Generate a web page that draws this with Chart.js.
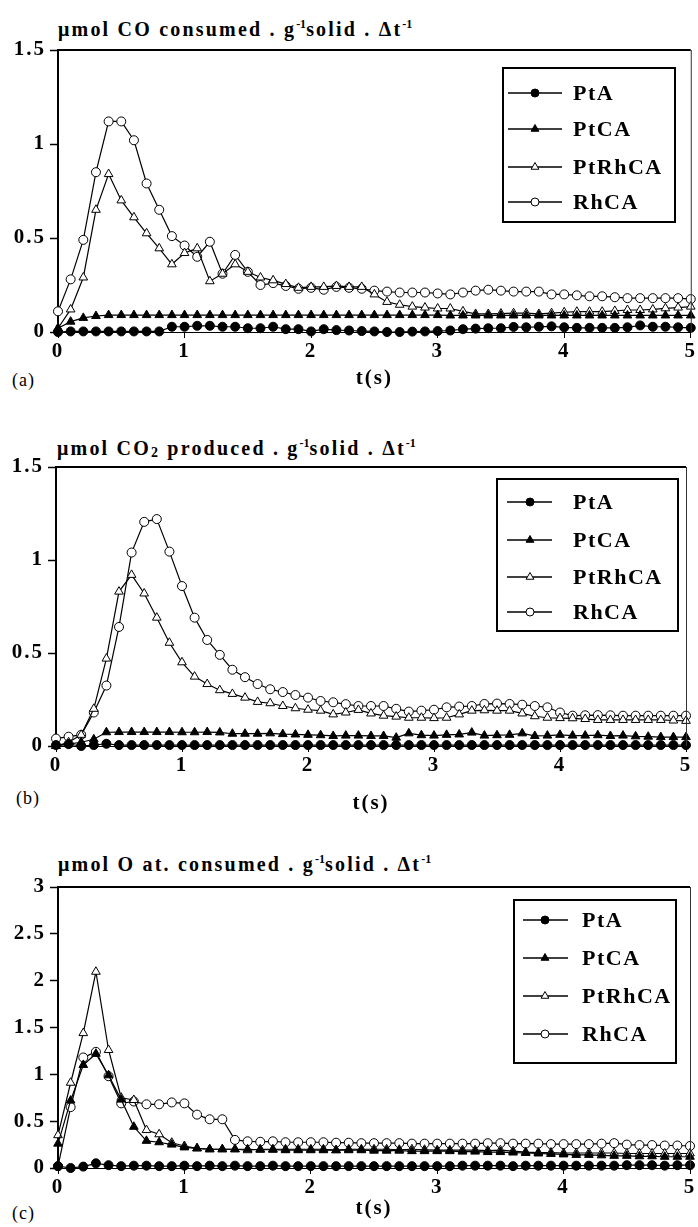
<!DOCTYPE html>
<html>
<head>
<meta charset="utf-8">
<script src="https://cdn.jsdelivr.net/npm/chart.js@4"></script>
<style>
  body { margin: 0; background: #fff; width: 698px; height: 1227px; position: relative; overflow: hidden; }
  canvas { position: absolute; left: 0; }
  .ttl { position: absolute; left: 58px; font: bold 20px "Liberation Serif", serif; letter-spacing: 2.2px; line-height: 22px; white-space: nowrap; color: #000; }
  .ttl sup { font-size: 12px; line-height: 0; vertical-align: 8px; letter-spacing: 0; }
  .ttl sub { font-size: 14px; line-height: 0; vertical-align: -2px; }
  .lbl { position: absolute; font: 18px "Liberation Serif", serif; letter-spacing: 1px; line-height: 22px; color: #000; }
</style>
</head>
<body>
<div class="ttl" style="top:18px">μmol CO consumed . g<sup>-1</sup>solid . Δt<sup>-1</sup></div>
<div class="ttl" style="top:437px;left:57px">μmol CO<sub>2</sub> produced . g<sup>-1</sup>solid . Δt<sup>-1</sup></div>
<div class="ttl" style="top:853px">μmol O at. consumed . g<sup>-1</sup>solid . Δt<sup>-1</sup></div>
<div class="lbl" style="top:369px;left:12px">(a)</div>
<div class="lbl" style="top:787px;left:16px">(b)</div>
<div class="lbl" style="top:1202px;left:12px">(c)</div>

<canvas id="chartA" width="698" height="400" style="top:0px"></canvas>
<canvas id="chartB" width="698" height="425" style="top:400px"></canvas>
<canvas id="chartC" width="698" height="407" style="top:820px"></canvas>

<script>
const times = [0, 0.1, 0.2, 0.3, 0.4, 0.5, 0.6, 0.7, 0.8, 0.9,
  1, 1.1, 1.2, 1.3, 1.4, 1.5, 1.6, 1.7, 1.8, 1.9,
  2, 2.1, 2.2, 2.3, 2.4, 2.5, 2.6, 2.7, 2.8, 2.9,
  3, 3.1, 3.2, 3.3, 3.4, 3.5, 3.6, 3.7, 3.8, 3.9,
  4, 4.1, 4.2, 4.3, 4.4, 4.5, 4.6, 4.7, 4.8, 4.9, 5];

const seriesNames = ["PtA", "PtCA", "PtRhCA", "RhCA"];

// (a) CO consumed
const aPtA = [0, 0.003, 0.003, 0.003, 0.003, 0.003, 0.003, 0.003, 0.003, 0.028,
  0.028, 0.033, 0.033, 0.028, 0.028, 0.02, 0.02, 0.028, 0.015, 0.015,
  0.003, 0.015, 0.01, 0.008, 0.005, 0.003, 0, 0, 0.002, 0.003,
  0.005, 0.008, 0.015, 0.018, 0.02, 0.02, 0.027, 0.025, 0.028, 0.03,
  0.025, 0.022, 0.022, 0.022, 0.022, 0.025, 0.035, 0.028, 0.028, 0.025, 0.022];
const aPtCA = [0.02, 0.055, 0.075, 0.085, 0.09, 0.09, 0.09, 0.09, 0.09, 0.09,
  0.09, 0.09, 0.09, 0.09, 0.09, 0.09, 0.09, 0.09, 0.09, 0.09,
  0.09, 0.09, 0.09, 0.09, 0.09, 0.09, 0.09, 0.09, 0.09, 0.09,
  0.09, 0.088, 0.088, 0.088, 0.088, 0.088, 0.088, 0.088, 0.088, 0.088,
  0.088, 0.088, 0.088, 0.088, 0.088, 0.088, 0.088, 0.088, 0.088, 0.088, 0.088];
const aPtRhCA = [0.02, 0.12, 0.29, 0.65, 0.84, 0.70, 0.61, 0.525, 0.445, 0.36,
  0.42, 0.445, 0.27, 0.31, 0.36, 0.32, 0.29, 0.275, 0.255, 0.235,
  0.24, 0.24, 0.245, 0.24, 0.24, 0.2, 0.16, 0.145, 0.135, 0.13,
  0.125, 0.125, 0.11, 0.096, 0.096, 0.098, 0.1, 0.1, 0.096, 0.1,
  0.105, 0.108, 0.108, 0.108, 0.112, 0.117, 0.117, 0.12, 0.126, 0.13, 0.135];
const aRhCA = [0.11, 0.28, 0.49, 0.85, 1.12, 1.12, 1.02, 0.79, 0.65, 0.51,
  0.46, 0.40, 0.48, 0.31, 0.41, 0.32, 0.25, 0.26, 0.245, 0.23,
  0.235, 0.225, 0.24, 0.235, 0.23, 0.22, 0.215, 0.21, 0.21, 0.21,
  0.205, 0.2, 0.21, 0.22, 0.225, 0.22, 0.215, 0.215, 0.215, 0.2,
  0.2, 0.195, 0.19, 0.19, 0.185, 0.18, 0.18, 0.18, 0.18, 0.18, 0.175];

// (b) CO2 produced
const bPtA = [0.005, 0.01, 0, 0.005, 0.012, 0.005, 0.005, 0.005, 0.005, 0.005,
  0.005, 0.005, 0.005, 0.005, 0.005, 0.005, 0.005, 0.005, 0.005, 0.005,
  0.005, 0.005, 0.005, 0.005, 0.005, 0.005, 0.005, 0.005, 0.005, 0.005,
  0.005, 0.005, 0.005, 0.005, 0.005, 0.005, 0.005, 0.005, 0.005, 0.005,
  0.005, 0.005, 0.005, 0.005, 0.005, 0.005, 0.005, 0.005, 0.005, 0.005, 0.005];
const bPtCA = [0, 0.01, 0.02, 0.036, 0.074, 0.075, 0.075, 0.075, 0.075, 0.075,
  0.074, 0.074, 0.075, 0.073, 0.066, 0.066, 0.066, 0.068, 0.064, 0.062,
  0.06, 0.058, 0.054, 0.056, 0.056, 0.054, 0.054, 0.045, 0.068, 0.058,
  0.056, 0.06, 0.062, 0.072, 0.056, 0.058, 0.06, 0.068, 0.054, 0.056,
  0.06, 0.056, 0.056, 0.058, 0.054, 0.056, 0.052, 0.05, 0.048, 0.048, 0.048];
const bPtRhCA = [0, 0.02, 0.06, 0.2, 0.47, 0.83, 0.92, 0.82, 0.69, 0.555,
  0.45, 0.373, 0.333, 0.30, 0.28, 0.26, 0.237, 0.23, 0.215, 0.203,
  0.195, 0.19, 0.17, 0.18, 0.194, 0.175, 0.163, 0.158, 0.152, 0.152,
  0.15, 0.152, 0.17, 0.19, 0.192, 0.19, 0.19, 0.175, 0.16, 0.152,
  0.15, 0.149, 0.145, 0.14, 0.14, 0.14, 0.14, 0.14, 0.14, 0.137, 0.135];
const bRhCA = [0.04, 0.05, 0.06, 0.18, 0.325, 0.64, 1.04, 1.205, 1.22, 1.045,
  0.86, 0.69, 0.57, 0.49, 0.41, 0.37, 0.333, 0.305, 0.29, 0.274,
  0.26, 0.242, 0.235, 0.225, 0.215, 0.215, 0.215, 0.2, 0.185, 0.19,
  0.195, 0.208, 0.212, 0.215, 0.226, 0.228, 0.226, 0.222, 0.215, 0.208,
  0.18, 0.163, 0.165, 0.166, 0.165, 0.163, 0.163, 0.163, 0.163, 0.163, 0.163];

// (c) O at. consumed
const cPtA = [0.02, 0, 0.015, 0.05, 0.03, 0.02, 0.025, 0.025, 0.02, 0.02,
  0.025, 0.02, 0.025, 0.02, 0.025, 0.02, 0.02, 0.025, 0.02, 0.02,
  0.02, 0.02, 0.02, 0.02, 0.02, 0.02, 0.02, 0.02, 0.02, 0.02,
  0.02, 0.02, 0.025, 0.025, 0.025, 0.025, 0.02, 0.025, 0.025, 0.025,
  0.025, 0.025, 0.025, 0.025, 0.025, 0.03, 0.03, 0.03, 0.025, 0.03, 0.03];
const cPtCA = [0.26, 0.72, 1.10, 1.22, 0.99, 0.73, 0.44, 0.29, 0.275, 0.25,
  0.22, 0.21, 0.2, 0.2, 0.2, 0.2, 0.195, 0.195, 0.19, 0.19,
  0.19, 0.19, 0.19, 0.19, 0.19, 0.185, 0.185, 0.185, 0.18, 0.18,
  0.18, 0.18, 0.175, 0.175, 0.17, 0.17, 0.165, 0.16, 0.155, 0.15,
  0.145, 0.14, 0.14, 0.135, 0.13, 0.13, 0.125, 0.125, 0.12, 0.12, 0.12];
const cPtRhCA = [0.35, 0.91, 1.44, 2.095, 1.26, 0.75, 0.726, 0.405, 0.36, 0.27,
  0.235, 0.21, 0.2, 0.2, 0.2, 0.19, 0.2, 0.2, 0.2, 0.2,
  0.2, 0.2, 0.19, 0.2, 0.2, 0.2, 0.2, 0.195, 0.2, 0.195,
  0.19, 0.19, 0.19, 0.19, 0.185, 0.19, 0.18, 0.17, 0.165, 0.165,
  0.16, 0.16, 0.16, 0.16, 0.16, 0.155, 0.155, 0.155, 0.155, 0.155, 0.155];
const cRhCA = [0.02, 0.65, 1.18, 1.24, 0.98, 0.69, 0.71, 0.68, 0.68, 0.70,
  0.69, 0.57, 0.52, 0.52, 0.30, 0.285, 0.28, 0.285, 0.275, 0.275,
  0.275, 0.275, 0.27, 0.27, 0.265, 0.265, 0.265, 0.265, 0.26, 0.26,
  0.26, 0.26, 0.26, 0.26, 0.265, 0.265, 0.26, 0.26, 0.26, 0.255,
  0.255, 0.255, 0.255, 0.26, 0.265, 0.25, 0.245, 0.245, 0.24, 0.24, 0.235];

const markers = [
  { pointStyle: "circle", pointRadius: 4.5, pointBackgroundColor: "#000" },
  { pointStyle: "triangle", pointRadius: 5, pointBackgroundColor: "#000" },
  { pointStyle: "triangle", pointRadius: 5, pointBackgroundColor: "#fff" },
  { pointStyle: "circle", pointRadius: 4.5, pointBackgroundColor: "#fff" },
];

const tickFont = { family: "'Liberation Serif', serif", weight: "bold", size: 21 };

// wider letter spacing like the scanned figure
const spacing = {
  id: "spacing",
  beforeUpdate(chart) { chart.ctx.letterSpacing = "2px"; },
  beforeDraw(chart) { chart.ctx.letterSpacing = "2px"; },
};

// frame on top and right of the plot
const frame = {
  id: "frame",
  afterDraw(chart) {
    const { ctx, chartArea: a } = chart;
    ctx.save();
    ctx.strokeStyle = "#000";
    ctx.lineWidth = 2;
    ctx.beginPath();
    ctx.moveTo(a.left, a.top);
    ctx.lineTo(a.right, a.top);
    ctx.stroke();
    ctx.strokeStyle = "#333";
    ctx.lineWidth = 1;
    ctx.beginPath();
    ctx.moveTo(a.right + 0.5, a.top);
    ctx.lineTo(a.right + 0.5, a.bottom);
    ctx.stroke();
    ctx.restore();
  },
};

// boxed legend inside the plot
const boxLegend = {
  id: "boxLegend",
  afterDraw(chart, args, o) {
    const ctx = chart.ctx;
    ctx.save();
    ctx.fillStyle = "#fff";
    ctx.fillRect(o.x, o.y, o.w, o.h);
    ctx.strokeStyle = "#000";
    ctx.lineWidth = 2;
    ctx.strokeRect(o.x, o.y, o.w, o.h);
    chart.data.datasets.forEach((ds, i) => {
      const y = o.rows[i];
      ctx.strokeStyle = "#000";
      ctx.lineWidth = 1.5;
      ctx.beginPath();
      ctx.moveTo(o.x0, y);
      ctx.lineTo(o.x1, y);
      ctx.stroke();
      ctx.fillStyle = ds.pointBackgroundColor;
      ctx.lineWidth = 1;
      Chart.helpers.drawPoint(ctx, { pointStyle: ds.pointStyle, radius: ds.pointRadius - 0.5, borderWidth: 1, rotation: 0 }, o.xm, y);
      ctx.fillStyle = "#000";
      ctx.letterSpacing = "1.5px";
      ctx.font = "bold 22px 'Liberation Serif', serif";
      ctx.textBaseline = "middle";
      ctx.textAlign = "left";
      ctx.fillText(ds.label, o.tx, y + 1);
    });
    ctx.restore();
  },
};

function makeChart(id, series, g) {
  const datasets = series.map((vals, i) => ({
    label: seriesNames[i],
    data: times.map((t, k) => ({ x: t, y: vals[k] })),
    borderColor: "#000",
    borderWidth: 1.2,
    pointBorderColor: "#000",
    pointBorderWidth: 1,
    clip: false,
    tension: 0,
    ...markers[i],
  }));

  return new Chart(document.getElementById(id), {
    type: "line",
    data: { datasets },
    options: {
      responsive: false,
      animation: false,
      devicePixelRatio: 1,
      layout: { padding: { left: 0, right: g.padRight, top: g.padTop, bottom: 0 } },
      plugins: {
        legend: { display: false },
        tooltip: { enabled: false },
        boxLegend: g.legend,
      },
      scales: {
        x: {
          type: "linear",
          min: 0,
          max: 5,
          afterFit: (s) => { s.height = g.xHeight; },
          ticks: { stepSize: 1, color: "#000", font: tickFont, padding: 1, maxRotation: 0 },
          grid: { drawOnChartArea: false, tickLength: 6, tickColor: "#000" },
          border: { color: "#000", width: 1 },
          title: { display: true, text: "t(s)", color: "#000", font: tickFont, padding: { top: 0, bottom: g.titlePad } },
        },
        y: {
          min: 0,
          max: g.yMax,
          afterFit: (s) => { s.width = g.yWidth; },
          ticks: { stepSize: 0.5, color: "#000", font: tickFont, padding: 4, callback: (v) => String(v) },
          grid: { drawOnChartArea: false, tickLength: 8, tickColor: "#000", tickWidth: 1.5 },
          border: { color: "#000", width: 2 },
        },
      },
    },
    plugins: [spacing, frame, boxLegend],
  });
}

makeChart("chartA", [aPtA, aPtCA, aPtRhCA, aRhCA], {
  yMax: 1.5, yWidth: 58, padRight: 7, padTop: 50, xHeight: 68, titlePad: 9,
  legend: { x: 503, y: 68, w: 172, h: 154, rows: [93, 129, 167, 202], x0: 508, x1: 562, xm: 535, tx: 573 },
});

makeChart("chartB", [bPtA, bPtCA, bPtRhCA, bRhCA], {
  yMax: 1.5, yWidth: 56, padRight: 12, padTop: 67, xHeight: 79, titlePad: 9,
  legend: { x: 497, y: 79, w: 181, h: 152, rows: [102, 140, 177, 212], x0: 507, x1: 552, xm: 530, tx: 573 },
});

makeChart("chartC", [cPtA, cPtCA, cPtRhCA, cRhCA], {
  yMax: 3, yWidth: 58, padRight: 8, padTop: 67, xHeight: 59, titlePad: 6,
  legend: { x: 514, y: 80, w: 162, h: 163, rows: [100, 138, 176, 214], x0: 523, x1: 568, xm: 545, tx: 582 },
});
</script>
</body>
</html>
